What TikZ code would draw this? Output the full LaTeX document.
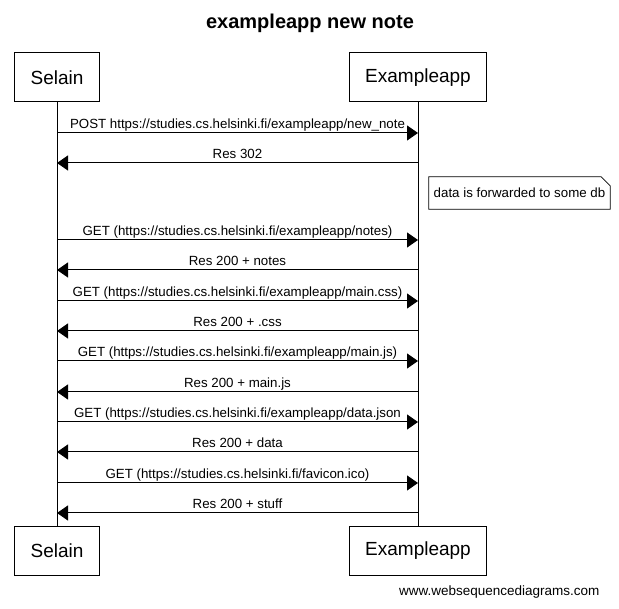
\documentclass[tikz,border=0pt]{standalone}
\usepackage{fontspec}
\setmainfont{Liberation Sans}
\usetikzlibrary{arrows.meta}

\begin{document}
\begin{tikzpicture}[x=1pt, y=-1pt,
  actor/.style={draw,line width=1pt,minimum height=49pt,inner xsep=16pt,font=\fontsize{19}{22}\selectfont},
  msg/.style={line width=1pt,-{Triangle[length=11pt,width=15pt]}},
  lbl/.style={anchor=base,yshift=4pt,inner sep=0pt,font=\fontsize{13.3}{15}\selectfont}]
\useasboundingbox (0,0) rectangle (619,609);

\node [anchor=base,font=\bfseries\fontsize{20}{24}\selectfont] (title) at (310,29) {exampleapp new note};

\node [actor] (s1) at (57,77.5) {Selain};
\node [actor] (e1) at (418,77.5) {Exampleapp};
\node [actor] (s2) at (57,551) {Selain};
\node [actor] (e2) at (418,551) {Exampleapp};

\draw [line width=1pt] (s1) -- (s2);
\draw [line width=1pt] (e1) -- (e2);

% points on the lifelines
\foreach \i/\y in {1/133,2/163,3/240,4/270,5/301,6/331,7/361,8/392,9/422,10/452,11/483,12/513}{
  \coordinate (a\i) at (57,\y);
  \coordinate (b\i) at (418,\y);
}

\draw [msg] (a1) -- node[lbl] {POST https://studies.cs.helsinki.fi/exampleapp/new\_note} (b1);
\draw [msg] (b2) -- node[lbl] {Res 302} (a2);

\node [minimum width=181pt,minimum height=32pt,inner sep=0pt,font=\fontsize{13.3}{15}\selectfont] (n1) at (519.5,193) {data is forwarded to some db};
\draw [line width=0.8pt] (n1.south west) -- (n1.north west) -- ([xshift=-9pt]n1.north east) -- ([yshift=-9pt]n1.north east) -- (n1.south east) -- cycle;

\draw [msg] (a3) -- node[lbl] {GET (https://studies.cs.helsinki.fi/exampleapp/notes)} (b3);
\draw [msg] (b4) -- node[lbl] {Res 200 + notes} (a4);
\draw [msg] (a5) -- node[lbl] {GET (https://studies.cs.helsinki.fi/exampleapp/main.css)} (b5);
\draw [msg] (b6) -- node[lbl] {Res 200 + .css} (a6);
\draw [msg] (a7) -- node[lbl] {GET (https://studies.cs.helsinki.fi/exampleapp/main.js)} (b7);
\draw [msg] (b8) -- node[lbl] {Res 200 + main.js} (a8);
\draw [msg] (a9) -- node[lbl] {GET (https://studies.cs.helsinki.fi/exampleapp/data.json} (b9);
\draw [msg] (b10) -- node[lbl] {Res 200 + data} (a10);
\draw [msg] (a11) -- node[lbl] {GET (https://studies.cs.helsinki.fi/favicon.ico)} (b11);
\draw [msg] (b12) -- node[lbl] {Res 200 + stuff} (a12);

\node [anchor=base east,font=\fontsize{13.5}{16}\selectfont] (web) at (603,595) {www.websequencediagrams.com};
\end{tikzpicture}
\end{document}
